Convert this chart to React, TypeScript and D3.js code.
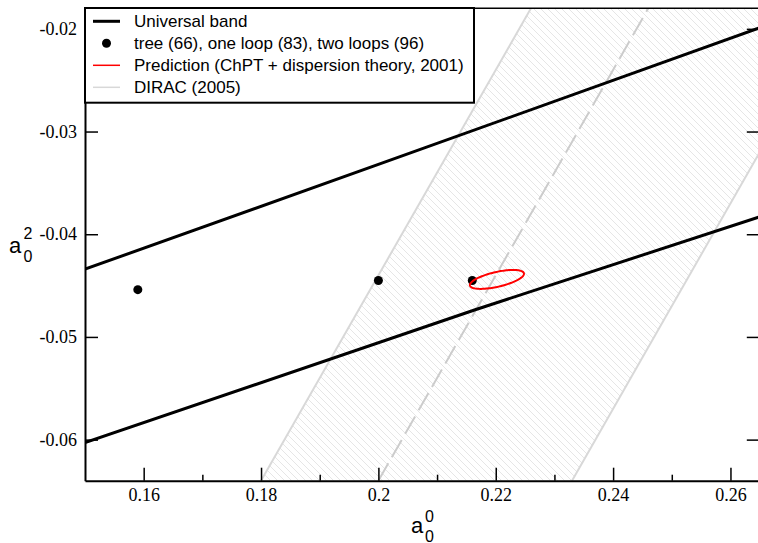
import { useEffect, useRef } from "react";
import * as d3 from "d3";

const xTicks = [0.16, 0.18, 0.2, 0.22, 0.24, 0.26];
const xMinorTicks = [0.17, 0.19, 0.21, 0.23, 0.25];
const yTicks = [-0.06, -0.05, -0.04, -0.03, -0.02];

// universal band edges, [a00, a02]
const bandUpper: [number, number][] = [
  [0.15, -0.0434],
  [0.2, -0.0332],
  [0.265, -0.0199],
];
const bandLower: [number, number][] = [
  [0.15, -0.0603],
  [0.2165, -0.04735],
  [0.265, -0.0383],
];

const loopPoints = [
  { name: "tree", a00: 0.159, a02: -0.0454 },
  { name: "one loop", a00: 0.2, a02: -0.0445 },
  { name: "two loops", a00: 0.216, a02: -0.0445 },
];

// DIRAC: a00 - a02 = 0.264 (+0.033 / -0.020)
const diracCentral = 0.264;
const diracLow = 0.244;
const diracHigh = 0.297;

// prediction ellipse: centre and two half-axes, in data units
const predictionCenter = [0.2202, -0.0444];
const predictionMajor = [0.0046, 0.0006];
const predictionMinor = [0.0003, -0.0007];

const legendLabels = [
  "Universal band",
  "tree (66), one loop (83), two loops (96)",
  "Prediction (ChPT + dispersion theory, 2001)",
  "DIRAC (2005)",
];

const W = 758;
const H = 543;
const xDomain = [0.15, 0.265];
const yDomain = [-0.064, -0.018];

export default function App() {
  const ref = useRef<SVGSVGElement>(null);

  useEffect(() => {
    const svg = d3.select(ref.current);
    svg.selectAll("*").remove();

    const left = 85;
    const right = 759.8;
    const top = 8.3;
    const bottom = 480.7;

    const x = d3.scaleLinear().domain(xDomain).range([left, right]);
    const y = d3.scaleLinear().domain(yDomain).range([bottom, top]);

    const defs = svg.append("defs");
    defs
      .append("clipPath")
      .attr("id", "plot")
      .append("rect")
      .attr("x", left)
      .attr("y", top)
      .attr("width", right - left)
      .attr("height", bottom - top);

    const pat = defs
      .append("pattern")
      .attr("id", "hatch")
      .attr("patternUnits", "userSpaceOnUse")
      .attr("width", 7)
      .attr("height", 7);
    pat
      .append("path")
      .attr("d", "M0,0L7,7M-1,6L1,8M6,-1L8,1")
      .attr("stroke", "#e6e6e6")
      .attr("stroke-width", 1);

    const plot = svg.append("g").attr("clip-path", "url(#plot)");

    // DIRAC band
    const [y0, y1] = yDomain;
    const bandPoly: [number, number][] = [
      [diracLow + y0, y0],
      [diracHigh + y0, y0],
      [diracHigh + y1, y1],
      [diracLow + y1, y1],
    ];
    const line = d3
      .line<[number, number]>()
      .x((d) => x(d[0]))
      .y((d) => y(d[1]));

    plot
      .append("path")
      .attr("d", line(bandPoly) + "Z")
      .attr("fill", "url(#hatch)");

    [diracLow, diracHigh].forEach((c) => {
      plot
        .append("path")
        .attr("d", line([[c + y0, y0], [c + y1, y1]]))
        .attr("fill", "none")
        .attr("stroke", "#d8d8d8")
        .attr("stroke-width", 2);
    });
    plot
      .append("path")
      .attr("d", line([[diracCentral + y0, y0], [diracCentral + y1, y1]]))
      .attr("fill", "none")
      .attr("stroke", "#cccccc")
      .attr("stroke-width", 2)
      .attr("stroke-dasharray", "20,7");

    // universal band
    [bandUpper, bandLower].forEach((b) => {
      plot
        .append("path")
        .attr("d", line(b))
        .attr("fill", "none")
        .attr("stroke", "#000")
        .attr("stroke-width", 3);
    });

    // tree / one loop / two loops
    plot
      .selectAll("circle.pt")
      .data(loopPoints)
      .join("circle")
      .attr("class", "pt")
      .attr("cx", (d) => x(d.a00))
      .attr("cy", (d) => y(d.a02))
      .attr("r", 4.5)
      .attr("fill", "#000");

    // prediction ellipse
    const ell: [number, number][] = d3.range(0, 121).map((i) => {
      const t = (i / 120) * 2 * Math.PI;
      return [
        predictionCenter[0] + predictionMajor[0] * Math.cos(t) + predictionMinor[0] * Math.sin(t),
        predictionCenter[1] + predictionMajor[1] * Math.cos(t) + predictionMinor[1] * Math.sin(t),
      ];
    });
    plot
      .append("path")
      .attr("d", line(ell))
      .attr("fill", "none")
      .attr("stroke", "#ff0000")
      .attr("stroke-width", 2);

    // axes
    const serif = "Liberation Serif, DejaVu Serif, Times New Roman, serif";
    const tickFont = (g: d3.Selection<SVGGElement, unknown, null, undefined>) => {
      g.attr("font-family", serif).attr("font-size", 18);
      g.selectAll(".tick line").attr("stroke", "#000").attr("stroke-width", 1.5);
      g.selectAll(".tick text")
        .attr("fill", "#000")
        .attr("font-family", serif)
        .attr("font-size", 18);
    };

    svg
      .append("g")
      .attr("transform", `translate(0,${bottom})`)
      .call(
        d3
          .axisBottom(x)
          .tickValues(xMinorTicks)
          .tickSizeInner(-6)
          .tickSizeOuter(0)
          .tickFormat(() => "")
      )
      .call((g) => g.select(".domain").remove())
      .call(tickFont);

    svg
      .append("g")
      .attr("transform", `translate(0,${bottom})`)
      .call(
        d3
          .axisBottom(x)
          .tickValues(xTicks)
          .tickSizeInner(-13)
          .tickSizeOuter(0)
          .tickPadding(8)
          .tickFormat((d) => String(d))
      )
      .call(tickFont)
      .call((g) => g.select(".domain").attr("stroke", "#000").attr("stroke-width", 2));

    svg
      .append("g")
      .attr("transform", `translate(${left},0)`)
      .call(
        d3
          .axisLeft(y)
          .tickValues(yTicks)
          .tickSizeInner(-13)
          .tickSizeOuter(0)
          .tickPadding(8)
          .tickFormat((d) => String(d))
      )
      .call(tickFont)
      .call((g) => g.select(".domain").attr("stroke", "#000").attr("stroke-width", 2));

    svg
      .append("g")
      .attr("transform", `translate(${right},0)`)
      .call(
        d3
          .axisRight(y)
          .tickValues(yTicks)
          .tickSizeInner(-13)
          .tickSizeOuter(0)
          .tickFormat(() => "")
      )
      .call(tickFont);

    svg
      .append("line")
      .attr("x1", left)
      .attr("x2", right)
      .attr("y1", top)
      .attr("y2", top)
      .attr("stroke", "#000")
      .attr("stroke-width", 1.5);

    // axis titles
    const sans = "Liberation Sans, Arial, sans-serif";
    const xt = svg.append("text").attr("font-family", sans).attr("fill", "#000");
    xt.append("tspan").attr("x", 411).attr("y", 533).attr("font-size", 22).text("a");
    xt.append("tspan").attr("x", 425).attr("y", 521.5).attr("font-size", 16).text("0");
    xt.append("tspan").attr("x", 425).attr("y", 541.5).attr("font-size", 16).text("0");

    const yt = svg.append("text").attr("font-family", sans).attr("fill", "#000");
    yt.append("tspan").attr("x", 9).attr("y", 253).attr("font-size", 22).text("a");
    yt.append("tspan").attr("x", 23.5).attr("y", 239).attr("font-size", 16).text("2");
    yt.append("tspan").attr("x", 23.5).attr("y", 262).attr("font-size", 16).text("0");

    // legend
    const lg = svg.append("g");
    lg.append("rect")
      .attr("x", 85)
      .attr("y", 8)
      .attr("width", 389)
      .attr("height", 94.7)
      .attr("fill", "#fff")
      .attr("stroke", "#000")
      .attr("stroke-width", 2);

    const rowY = (i: number) => 21.3 + i * 22;
    lg.append("line")
      .attr("x1", 93).attr("x2", 120)
      .attr("y1", rowY(0)).attr("y2", rowY(0))
      .attr("stroke", "#000").attr("stroke-width", 3);
    lg.append("circle").attr("cx", 106.5).attr("cy", rowY(1)).attr("r", 4.5).attr("fill", "#000");
    lg.append("line")
      .attr("x1", 93).attr("x2", 120)
      .attr("y1", rowY(2)).attr("y2", rowY(2))
      .attr("stroke", "#ff0000").attr("stroke-width", 1.5);
    lg.append("line")
      .attr("x1", 93).attr("x2", 120)
      .attr("y1", rowY(3)).attr("y2", rowY(3))
      .attr("stroke", "#d8d8d8").attr("stroke-width", 1.5);

    lg.selectAll("text")
      .data(legendLabels)
      .join("text")
      .attr("x", 134)
      .attr("y", (_, i) => rowY(i) + 6)
      .attr("font-family", sans)
      .attr("font-size", 17)
      .attr("fill", "#000")
      .text((d) => d);
  }, []);

  return (
    <svg
      ref={ref}
      width={W}
      height={H}
      style={{ position: "absolute", left: 0, top: 0, background: "#fff" }}
    ></svg>
  );
}
